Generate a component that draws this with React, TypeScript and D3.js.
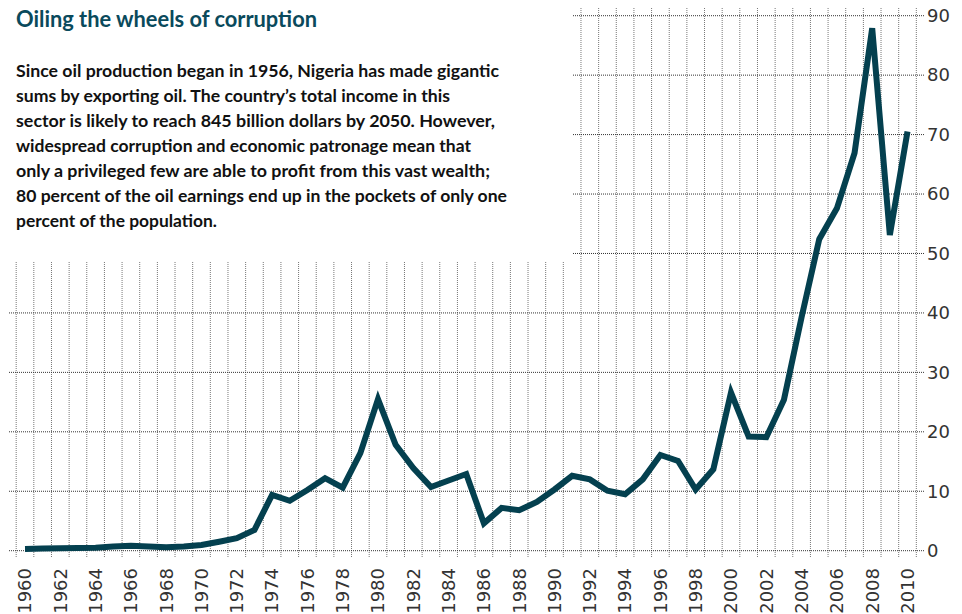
import React, { Component } from "react";
import * as d3 from "d3";

// oil revenue, billions of dollars
const years = [
  1960, 1961, 1962, 1963, 1964, 1965, 1966, 1967, 1968, 1969,
  1970, 1971, 1972, 1973, 1974, 1975, 1976, 1977, 1978, 1979,
  1980, 1981, 1982, 1983, 1984, 1985, 1986, 1987, 1988, 1989,
  1990, 1991, 1992, 1993, 1994, 1995, 1996, 1997, 1998, 1999,
  2000, 2001, 2002, 2003, 2004, 2005, 2006, 2007, 2008, 2009, 2010,
];
const revenue = [
  0.3, 0.35, 0.4, 0.45, 0.5, 0.7, 0.85, 0.7, 0.6, 0.7,
  0.95, 1.5, 2.1, 3.5, 9.4, 8.4, 10.2, 12.2, 10.6, 16.4,
  25.5, 17.8, 13.9, 10.7, 11.8, 12.9, 4.6, 7.2, 6.8, 8.2,
  10.3, 12.6, 12.0, 10.1, 9.5, 12.0, 16.1, 15.1, 10.3, 13.7,
  26.6, 19.2, 19.1, 25.4, 39.3, 52.4, 57.6, 66.9, 87.9, 53.1, 70.5,
];
const yTicks = [0, 10, 20, 30, 40, 50, 60, 70, 80, 90];
const xLabels = years.filter((y) => y % 2 === 0);

const title = "Oiling the wheels of corruption";
const bodyLines = [
  "Since oil production began in 1956, Nigeria has made gigantic",
  "sums by exporting oil. The country\u2019s total income in this",
  "sector is likely to reach 845 billion dollars by 2050. However,",
  "widespread corruption and economic patronage mean that",
  "only a privileged few are able to profit from this vast wealth;",
  "80 percent of the oil earnings end up in the pockets of only one",
  "percent of the population.",
];
const bodyWidths = [483, 434, 479, 455, 474, 491, 201];

class App extends Component {
  svgRef = React.createRef<SVGSVGElement>();

  componentDidMount() {
    this.renderChart();
  }

  componentDidUpdate() {
    this.renderChart();
  }

  renderChart() {
    const svg = d3.select(this.svgRef.current);
    svg.selectAll("*").remove();

    const x = d3.scaleLinear().domain([1960, 2010]).range([25, 907.5]);
    const y = d3.scaleLinear().domain([0, 90]).range([550.7, 15.7]);
    const step = x(1961) - x(1960);

    // grid
    const edges = years.map((d) => x(d) - step / 2).concat([x(2010) + step / 2]);
    svg
      .append("g")
      .selectAll("line")
      .data(edges)
      .join("line")
      .attr("x1", (d) => d)
      .attr("x2", (d) => d)
      .attr("y1", 8)
      .attr("y2", 558)
      .attr("stroke", "#777")
      .attr("stroke-dasharray", "1,1");

    svg
      .append("g")
      .selectAll("line")
      .data(yTicks)
      .join("line")
      .attr("x1", 9)
      .attr("x2", 925)
      .attr("y1", (d) => y(d))
      .attr("y2", (d) => y(d))
      .attr("stroke", "#333")
      .attr("stroke-dasharray", "1,1");

    // white box behind the text
    svg.append("rect").attr("x", 0).attr("y", 0).attr("width", 573).attr("height", 262).attr("fill", "#fff");

    svg
      .append("text")
      .attr("x", 16)
      .attr("y", 27)
      .attr("font-family", "Lato")
      .attr("font-weight", "bold")
      .attr("font-size", 22)
      .attr("fill", "#0a4a5c")
      .attr("textLength", 301)
      .attr("lengthAdjust", "spacingAndGlyphs")
      .text(title);

    svg
      .append("g")
      .selectAll("text")
      .data(bodyLines)
      .join("text")
      .attr("x", 16)
      .attr("y", (d, i) => 77.3 + i * 24.9)
      .attr("font-family", "Lato")
      .attr("font-weight", "bold")
      .attr("font-size", 17.5)
      .attr("fill", "#111")
      .attr("textLength", (d, i) => bodyWidths[i])
      .attr("lengthAdjust", "spacingAndGlyphs")
      .text((d) => d);

    // right axis labels
    svg
      .append("g")
      .selectAll("text")
      .data(yTicks)
      .join("text")
      .attr("x", 927)
      .attr("y", (d) => y(d))
      .attr("dy", "0.35em")
      .attr("font-family", "DejaVu Sans")
      .attr("font-size", 18)
      .attr("fill", "#333")
      .text((d) => d);

    // year labels
    svg
      .append("g")
      .selectAll("text")
      .data(xLabels)
      .join("text")
      .attr("transform", (d) => `translate(${x(d)}, 568) rotate(-90)`)
      .attr("dy", "0.35em")
      .attr("text-anchor", "end")
      .attr("font-family", "DejaVu Sans")
      .attr("font-size", 18)
      .attr("fill", "#333")
      .text((d) => d);

    const line = d3
      .line<number>()
      .x((d, i) => x(years[i]))
      .y((d) => y(d));

    svg
      .append("path")
      .datum(revenue)
      .attr("d", line)
      .attr("fill", "none")
      .attr("stroke", "#04404f")
      .attr("stroke-width", 6)
      .attr("stroke-linejoin", "miter");
  }

  render() {
    return (
      <svg
        ref={this.svgRef}
        width={962}
        height={614}
        style={{ position: "absolute", left: 0, top: 0, background: "#fff" }}
      />
    );
  }
}

export default App;
